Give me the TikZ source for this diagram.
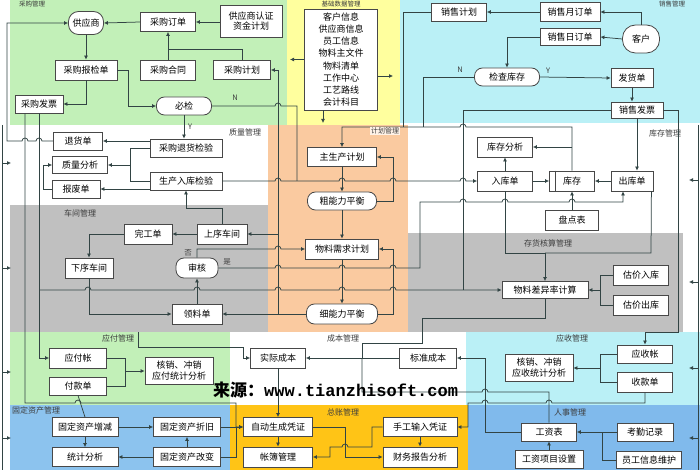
\documentclass[tikz,border=0pt]{standalone}
\usepackage{fontspec}
\setmainfont{Noto Sans CJK SC}
\setmonofont{Liberation Mono}
\usetikzlibrary{arrows.meta}
\definecolor{cgreen}{RGB}{194,240,184}
\definecolor{cyellow}{RGB}{255,255,158}
\definecolor{ccyan}{RGB}{186,240,246}
\definecolor{corange}{RGB}{250,202,160}
\definecolor{cgray}{RGB}{192,192,192}
\definecolor{cblue}{RGB}{140,195,238}
\definecolor{cblue2}{RGB}{128,186,236}
\definecolor{cgold}{RGB}{255,196,22}
\definecolor{boxc}{RGB}{72,72,72}
\definecolor{linec}{RGB}{50,68,68}
\definecolor{labc}{RGB}{60,60,60}
\newcommand\fs{\fontsize{9}{10.5}\selectfont}
\newcommand\fl{\fontsize{8}{9}\selectfont}
\tikzset{
  bx/.style={draw=boxc, fill=white, line width=0.8pt, inner sep=1pt, font=\fs, align=center},
  rbx/.style={bx, rounded corners=8pt},
  ln/.style={draw=linec, line width=0.75pt},
  arr/.style={-{Latex[length=4pt,width=4pt]}},
  lab/.style={font=\fl, text=labc, inner sep=0pt},
  toplab/.style={font=\fontsize{6.5}{7}\selectfont, text=labc, inner sep=0pt},
  yn/.style={font=\fontsize{7.5}{8}\selectfont, text=labc, inner sep=0pt}
}
\begin{document}
\begin{tikzpicture}[x=1pt,y=-1pt]
\useasboundingbox (0,0) rectangle (700,470);
% ---------- backgrounds
\fill[white] (0,0) rectangle (700,470);
\fill[cgreen] (10,0) rectangle (287,125);
\fill[cyellow] (287,0) rectangle (400,125);
\fill[ccyan] (400,0) rectangle (700,123);
\fill[corange] (268,125) rectangle (408,332);
\fill[cgray] (10,205) rectangle (268,332);
\fill[cgray] (408,233) rectangle (683,332);
\fill[cgreen] (10,332) rectangle (230,405);
\fill[ccyan] (466,332) rectangle (700,405);
\fill[cblue] (10,405) rectangle (230,470);
\fill[cgold] (230,405) rectangle (468,470);
\fill[cblue2] (468,405) rectangle (700,470);
% ---------- region labels
\node[toplab] (l1) at (32,4.5) {采购管理};
\node[toplab] (l2) at (341,4) {基础数据管理};
\node[toplab] (l3) at (672,4.5) {销售管理};
\node[lab] (l4) at (245,132) {质量管理};
\node[lab] (l5) at (80,213) {车间管理};
\node[lab] (l7) at (665,133) {库存管理};
\node[lab] (l8) at (548,243) {存货核算管理};
\node[lab] (l9) at (118,338) {应付管理};
\node[lab] (l10) at (343,338) {成本管理};
\node[lab] (l11) at (572,338) {应收管理};
\node[lab,anchor=west] (l12) at (12,410) {固定资产管理};
\node[lab] (l13) at (343,412) {总账管理};
\node[lab] (l14) at (570,412) {人事管理};
% ---------- nodes
\node[rbx, rounded corners=10pt, minimum width=35, minimum height=23] (gy) at (86,23) {供应商};
\node[bx, minimum width=55, minimum height=19] (cd) at (168,22) {采购订单};
\node[bx, minimum width=62, minimum height=32] (rz) at (251,21) {供应商认证\\资金计划};
\node[bx, minimum width=62, minimum height=20] (pj) at (86,70) {采购报检单};
\node[bx, minimum width=55, minimum height=20] (ht) at (168,70) {采购合同};
\node[bx, minimum width=57, minimum height=19] (jh) at (242,70) {采购计划};
\node[bx, minimum width=48, minimum height=18] (cf) at (39,104) {采购发票};
\node[rbx, minimum width=55, minimum height=18] (bj) at (184,106) {必检};
\node[bx, minimum width=73, minimum height=101, font=\fontsize{9}{12.2}\selectfont] (jd) at (341,59.5)
  {客户信息\\供应商信息\\员工信息\\物料主文件\\物料清单\\工作中心\\工艺路线\\会计科目};
\node[bx, minimum width=55, minimum height=18] (xj) at (459,12) {销售计划};
\node[bx, minimum width=60, minimum height=19] (xy) at (570,12) {销售月订单};
\node[bx, minimum width=60, minimum height=17] (xr) at (570,37) {销售日订单};
\node[rbx, rounded corners=13pt, minimum width=37, minimum height=28] (kh) at (641,39) {客户};
\node[rbx, minimum width=65, minimum height=18] (jc) at (507,77) {检查库存};
\node[bx, minimum width=42, minimum height=19] (fh) at (632,78) {发货单};
\node[bx, minimum width=52, minimum height=16] (xf) at (637,110) {销售发票};
\node[bx, minimum width=49, minimum height=18] (th) at (78,141) {退货单};
\node[bx, minimum width=72, minimum height=18] (rb) at (186,148) {采购退货检验};
\node[bx, minimum width=55, minimum height=17] (zl) at (80,165) {质量分析};
\node[bx, minimum width=72, minimum height=18] (sj) at (186,181) {生产入库检验};
\node[bx, minimum width=48, minimum height=18] (bf) at (76,189) {报废单};
\node[bx, minimum width=48, minimum height=20] (wg) at (148,234) {完工单};
\node[bx, minimum width=50, minimum height=20] (sx) at (222,234) {上序车间};
\node[bx, minimum width=48, minimum height=20] (xx) at (89,268) {下序车间};
\node[rbx, minimum width=42, minimum height=20] (sh) at (197,268) {审核};
\node[bx, minimum width=50, minimum height=20] (ll) at (197,314) {领料单};
\node[bx, minimum width=69, minimum height=19] (zs) at (342,157) {主生产计划};
\node[rbx, minimum width=69, minimum height=18] (cn) at (342,201) {粗能力平衡};
\node[bx, minimum width=73, minimum height=20] (wx) at (342,249) {物料需求计划};
\node[rbx, minimum width=71, minimum height=20] (xn) at (342,314) {细能力平衡};
\node[bx, minimum width=55, minimum height=20] (kf) at (505,147) {库存分析};
\node[bx, minimum width=55, minimum height=20] (rk) at (505,181) {入库单};
\node[bx, minimum width=45, minimum height=20] (kc) at (572,181) {库存};
\node[bx, minimum width=42, minimum height=20] (ck) at (632,181) {出库单};
\node[bx, minimum width=53, minimum height=20] (pd) at (572,220) {盘点表};
\node[bx, minimum width=86, minimum height=17] (wc) at (545,290) {物料差异率计算};
\node[bx, minimum width=55, minimum height=20] (gr) at (641,275) {估价入库};
\node[bx, minimum width=55, minimum height=20] (gc) at (641,305) {估价出库};
\node[bx, minimum width=57, minimum height=20] (yf) at (78,358) {应付帐};
\node[bx, minimum width=57, minimum height=18] (fk) at (78,386) {付款单};
\node[bx, minimum width=68, minimum height=27, font=\fontsize{9}{11}\selectfont] (hx1) at (179,371) {核销、冲销\\应付统计分析};
\node[bx, minimum width=55, minimum height=20] (sc) at (278,358) {实际成本};
\node[bx, minimum width=57, minimum height=20] (bz) at (428,358) {标准成本};
\node[bx, minimum width=55, minimum height=18] (ys) at (645,354) {应收帐};
\node[bx, minimum width=55, minimum height=20] (sk) at (645,382) {收款单};
\node[bx, minimum width=68, minimum height=27, font=\fontsize{9}{11}\selectfont] (hx2) at (539,368) {核销、冲销\\应收统计分析};
\node[bx, minimum width=66, minimum height=19] (zj) at (85,427) {固定资产增减};
\node[bx, minimum width=67, minimum height=19] (zz) at (187,427) {固定资产折旧};
\node[bx, minimum width=66, minimum height=19] (tj) at (85,457) {统计分析};
\node[bx, minimum width=67, minimum height=19] (gb) at (187,457) {固定资产改变};
\node[bx, minimum width=69, minimum height=19] (zd) at (278,427) {自动生成凭证};
\node[bx, minimum width=69, minimum height=20] (zb) at (278,457) {帐簿管理};
\node[bx, minimum width=74, minimum height=19] (sg) at (420,427) {手工输入凭证};
\node[bx, minimum width=74, minimum height=20] (cw) at (420,457) {财务报告分析};
\node[bx, minimum width=55, minimum height=18] (gz) at (549,432) {工资表};
\node[bx, minimum width=56, minimum height=18] (kq) at (645,432) {考勤记录};
\node[bx, minimum width=68, minimum height=18] (gx) at (549,459) {工资项目设置};
\node[bx, minimum width=65, minimum height=17] (yg) at (649,460) {员工信息维护};
\draw[boxc, line width=0.8pt] ([xshift=6pt]kc.north west) -- ([xshift=6pt]kc.south west);
% ---------- free ends
\coordinate (c1) at (290,59.5);
\coordinate (c2) at (393,76);
\coordinate (c3) at (323,123);
\coordinate (c4) at (138,332);
% purchase
\draw[ln,arr] (cd.west) -- (gy.east);
\draw[ln,arr] (rz.west |- cd.east) -- (cd.east);
\draw[ln,arr] (gy.south) -- (pj.north);
\draw[ln,arr] (ht.north) -- (cd.south);
\draw[ln] (jh.north) -- (242,49) -- (168,49);
\draw[ln,arr] (pj.east) -- (128,70) |- (bj.west);
\draw[ln,arr] (pj.south) |- (cf.east);
\draw[ln] (bj.east) -- (275,106) arc[start angle=180,end angle=0,radius=3pt] -- (297,106) -- (297,181);
\draw[ln,arr] (bj.south) -- (bj.south |- rb.north);
% quality
\draw[ln,arr] (rb.west |- th.east) -- (th.east);
\draw[ln] (rb.west) -- (130,148) -- (130,181) -- (sj.west);
\draw[ln,arr] (130,165) -- (zl.east);
\draw[ln,arr] (sj.west |- bf.east) -- (bf.east);
\draw[ln,arr] (bf.west) -- (43,189) |- (zl.west);
\draw[ln,arr] (sx.north) -- (222,208) -| (sj.south);
\draw[ln,arr] (sj.east) -- (275,181) arc[start angle=180,end angle=0,radius=3pt] -- (339,181) arc[start angle=180,end angle=0,radius=3pt] -- (390,181) arc[start angle=180,end angle=0,radius=3pt] -- (460,181) arc[start angle=180,end angle=0,radius=3pt] -- (rk.west);
\draw[ln,arr] (th.west) -- (42,141) arc[start angle=0,end angle=180,radius=3pt] -- (28,141) arc[start angle=0,end angle=180,radius=3pt] -- (7,141) |- (gy.west);
% workshop
\draw[ln,arr] (sx.west) -- (wg.east);
\draw[ln,arr] (wg.west) -| (xx.north);
\draw[ln,arr] (xx.south) |- (ll.west);
\draw[ln,arr] (ll.north) -- (sh.south);
\draw[ln,arr] (sh.north) -- (197,249) -- (275,249) arc[start angle=180,end angle=0,radius=3pt] -- (wx.west);
\draw[ln,arr] (sh.east) -- (275,268) arc[start angle=180,end angle=0,radius=3pt] -- (339,268) arc[start angle=180,end angle=0,radius=3pt] -- (390,268) arc[start angle=180,end angle=0,radius=3pt] -- (420,268) -- (420,202) -- (460,202) arc[start angle=180,end angle=0,radius=3pt] -- (502,202) arc[start angle=180,end angle=0,radius=3pt] -- (569,202) arc[start angle=180,end angle=0,radius=3pt] -| ([xshift=-9pt]ck.south);
% planning
\draw[ln,arr] (xn.west) -- (ll.east);
\draw[ln,arr] (278,314) -- (278,70) -- (jh.east);
\draw[ln,arr] (278,234) -- (sx.east);
\draw[ln,arr] (zs.south) -- (cn.north);
\draw[ln,arr] (cn.east) -- (393,201) |- (zs.east);
\draw[ln,arr] (cn.south) -- (wx.north);
\draw[ln,arr] (wx.south) -- (xn.north);
\draw[ln,arr] (xn.east) -- (393,314) |- (wx.east);
\draw[ln,arr] (kc.north) -- (572,127) -- (466,127) arc[start angle=0,end angle=180,radius=3pt] -| (zs.north);
\draw[ln,arr] (572,147) -- (kf.east);
\draw[ln] (xj.west) -- (403,12) -- (403,127);
\draw[ln] (jc.west) -- (423,77) -- (423,127);
% base data
\draw[ln,arr] (jd.west) -- (c1);
\draw[ln,arr] ([yshift=-16.5pt]jd.east) -- (c2);
\draw[ln,arr] ([xshift=-18pt]jd.south) -- (c3);
% sales
\draw[ln,arr] (kh.north) |- (xy.east);
\draw[ln,arr] (kh.west) -- (xr.east);
\draw[ln,arr] (xy.west) -- (xj.east);
\draw[ln,arr] (xr.west) -| (jc.north);
\draw[ln,arr] (jc.east) -- (fh.west);
\draw[ln,arr] (fh.south) -- (fh.south |- xf.north);
\draw[ln,arr] (xf.south) -- (xf.south |- ck.north);
\draw[ln] (xf.west) -- (463,110) -- (463,290);
\draw[ln,arr] (xf.east) -- (678,110) -- (678,332) -| (ys.north);
% inventory
\draw[ln,arr] (rk.east) -- (kc.west);
\draw[ln,arr] (ck.west) -- (kc.east);
\draw[ln,arr] (rk.north) -- (kf.south);
\draw[ln,arr] (pd.north) -- (kc.south);
\draw[ln,arr] (rk.south) -- (505,253) -| (wc.north);
\draw[ln] ([xshift=-2pt]ck.south east) -- (651,253) -- (545,253);
\draw[ln] (gr.west) -- (600,275) -- (600,305) -- (gc.west);
\draw[ln,arr] (600,290) -- (wc.east);
\draw[ln,arr] (39,290) -- (85,290) arc[start angle=180,end angle=0,radius=3pt] -- (194,290) arc[start angle=180,end angle=0,radius=3pt] -- (275,290) arc[start angle=180,end angle=0,radius=3pt] -- (339,290) arc[start angle=180,end angle=0,radius=3pt] -- (390,290) arc[start angle=180,end angle=0,radius=3pt] -- (wc.west);
% payables / assets
\draw[ln,arr] (cf.south) |- (yf.west);
\draw[ln,arr] ([xshift=-14pt]cf.south) -- (25,403) -- (75,403) arc[start angle=180,end angle=0,radius=3pt] -- (236,403) -- (236,427) -- (zd.west);
\draw[ln] (yf.east) -- (125,358) -- (125,386) -- (fk.east);
\draw[ln,arr] (125,371) -- (hx1.west);
\draw[ln] (fk.south) -- (zj.north);
\draw[ln,arr] (zj.east) -- (zz.west);
\draw[ln,arr] (zj.south) -- (tj.north);
\draw[ln,arr] (gb.north) -- (zz.south);
\draw[ln,arr] (gb.west) -- (tj.east);
\draw[ln,arr] (zz.east) -- (zd.west);
\draw[ln] (gb.east) -- (236,457) -- (236,427);
% cost
\draw[ln,arr] (c4) -- (138,347) -| (243,358) -- (sc.west);
\draw[ln,arr] (bz.west) -- (sc.east);
\draw[ln,arr] (sc.south) -- (zd.north);
\draw[ln] (wc.south) -- (545,318) -- (422,318) -- (422,343) -- (362,343) -- (362,358);
\draw[ln] (gz.north) -- (549,392) -- (488,392) arc[start angle=0,end angle=180,radius=3pt] -- (362,392) -- (362,358);
\draw[ln,arr] (gz.west) -- (485,432) -- (485,358) -- (bz.east);
% receivables / HR
\draw[ln,arr] (sk.south) -- (645,403) -- (552,403) arc[start angle=0,end angle=180,radius=3pt] -- (488,403) arc[start angle=0,end angle=180,radius=3pt] -- (468,403) -- (468,427) -- (sg.east);
\draw[ln] (ys.west) -- (600,354) -- (600,382) -- (sk.west);
\draw[ln,arr] (600,368) -- (hx2.east);
\draw[ln,arr] (kq.west) -- (gz.east);
\draw[ln] (yg.west) -- (602,460) -- (602,432);
\draw[ln,arr] (gx.north) -- (gz.south);
% ledger
\draw[ln,arr] (zd.south) -- (zb.north);
\draw[ln,arr] (zd.east) -- (345,427) -- (345,457) -- (cw.west);
\draw[ln,arr] (sg.west) -- (372,427) -- (372,447) -- (348,447) arc[start angle=0,end angle=180,radius=3pt] -- (330,447) -- (330,457) -- (zb.east);
\draw[ln,arr] (sg.south) -- (cw.north);
% edges
\draw[ln] (2,125) -- (2,470);
\foreach \yy [count=\i] in {163,268,372,438} {
  \coordinate (le\i) at (11,\yy);
  \draw[ln,arr] (2,\yy) -- (le\i);
}
\draw[ln] (698,125) -- (698,470);
\foreach \yy [count=\i] in {180,282,368,438} {
  \coordinate (re\i) at (689,\yy);
  \draw[ln,arr] (698,\yy) -- (re\i);
}
% small labels
\node[yn] (n1) at (235,98) {N};
\node[yn] (y1) at (190,127) {Y};
\node[yn] (n2) at (460,70) {N};
\node[yn] (y2) at (548,71) {Y};
\node[yn] (f1) at (188,253) {否};
\node[yn] (s1) at (227,262) {是};
\node[font=\fontsize{7}{8}\selectfont, text=labc, fill=white!75!corange, inner sep=1pt] (l6) at (385,131) {计划管理};
% watermark text
\node[anchor=west, inner sep=0pt, font=\fontsize{17}{17}\selectfont\bfseries] (src) at (213,390) {来源：{\ttfamily\bfseries www.tianzhisoft.com}};
\end{tikzpicture}
\end{document}
